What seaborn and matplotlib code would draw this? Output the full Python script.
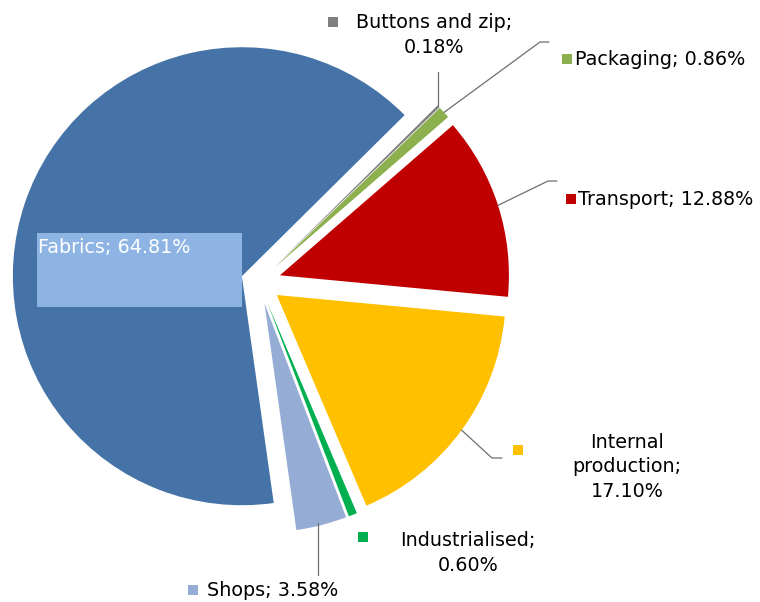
import numpy as np
import matplotlib
matplotlib.use("Agg")
import matplotlib.pyplot as plt
import seaborn as sns

# ---- data ----
categories = ["Fabrics", "Buttons and zip", "Packaging", "Transport",
              "Internal production", "Industrialised", "Shops"]
values = [64.81, 0.18, 0.86, 12.88, 17.10, 0.60, 3.58]
label_texts = ["Fabrics; 64.81%", "Buttons and zip;\n0.18%", "Packaging; 0.86%",
               "Transport; 12.88%", "Internal\nproduction;\n17.10%",
               "Industrialised;\n0.60%", "Shops; 3.58%"]
colors = ["#4573A7", "#7F7F7F", "#8DB04E", "#C00000", "#FFC000", "#00B050", "#95ADD5"]
explode = [0.079, 0.096, 0.096, 0.096, 0.096, 0.096, 0.096]

sns.set_theme(style="white")
plt.rcParams["font.family"] = ["DejaVu Sans"]

W, H = 760, 602
CX, CY, R = 259, 282, 229  # pixel geometry of pie

fig = plt.figure(figsize=(W / 100, H / 100), dpi=100)
ax = fig.add_axes([0, 0, 1, 1])


def P(px, py):
    return ((px - CX) / R, (CY - py) / R)


wedges, _ = ax.pie(values, explode=explode, colors=colors, startangle=-82.0,
                   counterclock=False, radius=1, center=(0, 0),
                   wedgeprops=dict(linewidth=0), frame=True)
ax.set_xlim(-CX / R, (W - CX) / R)
ax.set_ylim(-(H - CY) / R, CY / R)
ax.set_aspect("equal")
ax.axis("off")


def outer(i):
    w = wedges[i]
    th = np.deg2rad((w.theta1 + w.theta2) / 2)
    cx, cy = w.center
    return (cx + w.r * np.cos(th), cy + w.r * np.sin(th))


fs = 13.8
lc = "#6E6E6E"
lw = 0.9
ls = 1.38

# Fabrics label with box
ax.add_patch(plt.Rectangle(P(37, 307), 205 / R, 74 / R, color="#8EB4E3", lw=0, zorder=3))
ax.text(*P(38, 248), label_texts[0], color="white", fontsize=fs, va="center", ha="left", zorder=4)


def square(px, py, c):
    ax.scatter(*P(px, py), marker="s", s=50, color=c, linewidths=0, zorder=5)


# Buttons and zip
o = outer(1)
ax.plot([o[0], o[0]], [o[1], P(0, 72)[1]], color=lc, lw=lw)
square(333, 22, colors[1])
ax.text(*P(434, 35), label_texts[1], fontsize=fs, ha="center", va="center",
        color="black", linespacing=ls)

# Packaging
o = outer(2)
p1 = P(540, 42); p2 = P(549, 42)
ax.plot([o[0], p1[0], p2[0]], [o[1], p1[1], p2[1]], color=lc, lw=lw)
square(567, 59, colors[2])
ax.text(*P(575, 60), label_texts[2], fontsize=fs, ha="left", va="center", color="black")

# Transport
o = outer(3)
p1 = P(548, 181); p2 = P(557, 181)
ax.plot([o[0], p1[0], p2[0]], [o[1], p1[1], p2[1]], color=lc, lw=lw)
square(571, 199, colors[3])
ax.text(*P(578, 200), label_texts[3], fontsize=fs, ha="left", va="center", color="black")

# Internal production
o = outer(4)
p1 = P(492, 458); p2 = P(502, 458)
ax.plot([o[0], p1[0], p2[0]], [o[1], p1[1], p2[1]], color=lc, lw=lw)
square(518, 450, colors[4])
ax.text(*P(627, 467), label_texts[4], fontsize=fs, ha="center", va="center",
        color="black", linespacing=ls)

# Industrialised
square(363, 537, colors[5])
ax.text(*P(468, 553), label_texts[5], fontsize=fs, ha="center", va="center",
        color="black", linespacing=ls)

# Shops
ax.plot([P(318, 0)[0]] * 2, [P(0, 523)[1], P(0, 575)[1]], color=lc, lw=lw)
square(193, 590, colors[6])
ax.text(*P(207, 590), label_texts[6], fontsize=fs, ha="left", va="center", color="black")

fig.savefig("out.png", dpi=100)
